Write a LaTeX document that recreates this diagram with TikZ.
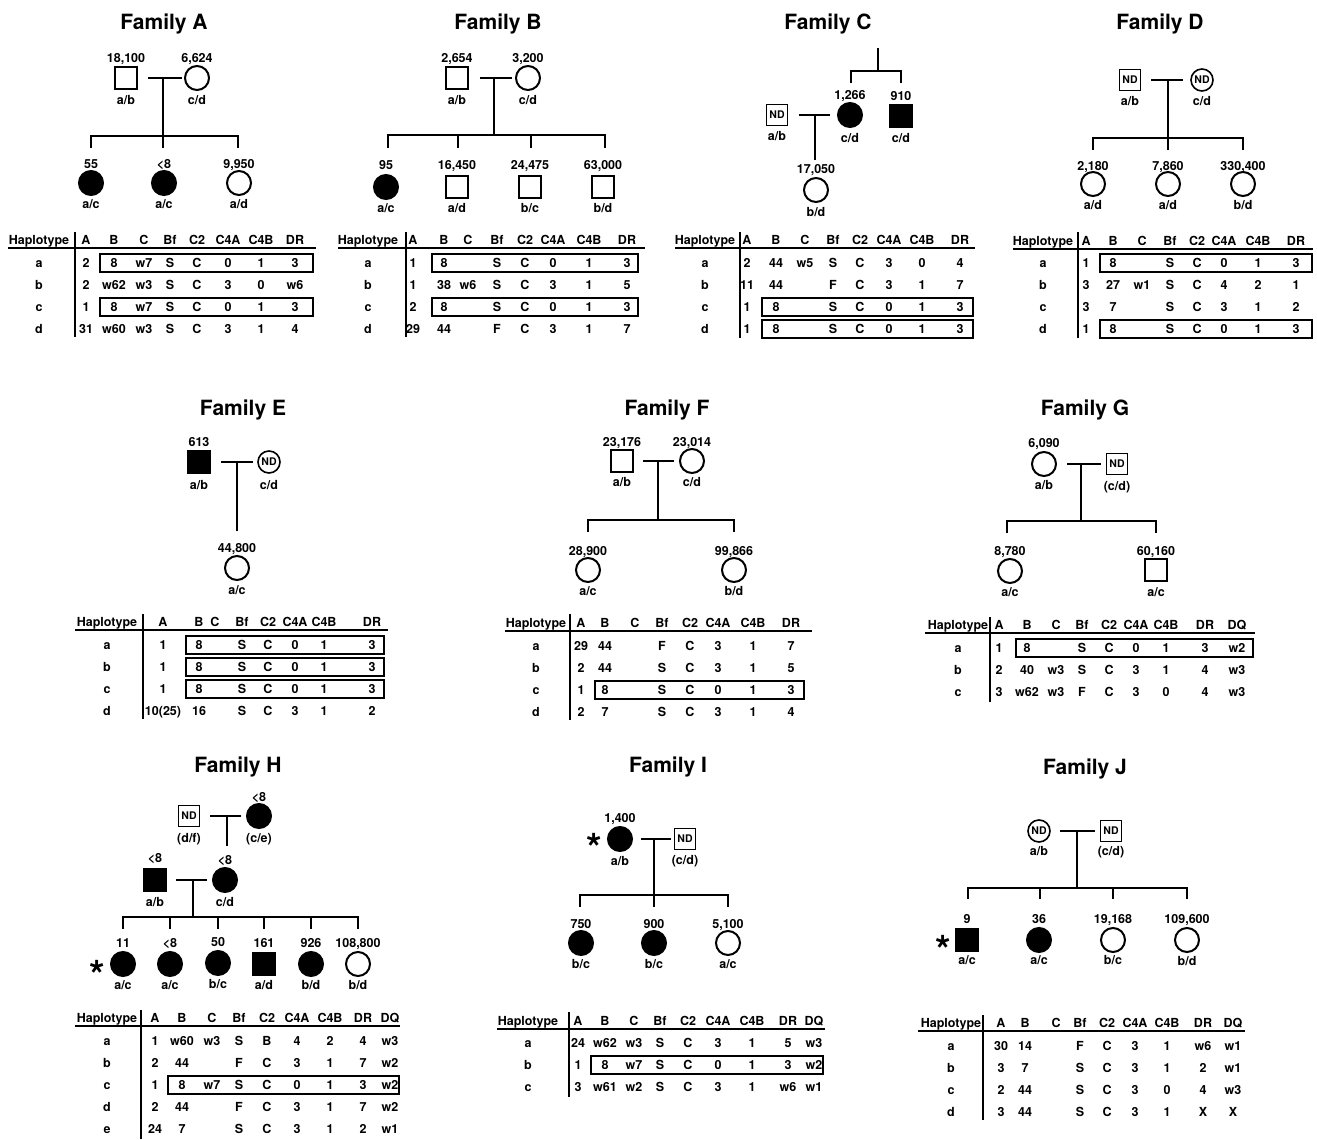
\documentclass[tikz,border=0pt]{standalone}
\usepackage{fontspec}
\setmainfont{TeX Gyre Heros}
\newcommand\ttlfont{\fontsize{21}{24}\selectfont\bfseries}
\newcommand\labfont{\fontsize{12.5}{14}\selectfont\bfseries}
\newcommand\cellfont{\fontsize{12.5}{14}\selectfont\bfseries}
\newcommand\ndfont{\fontsize{10.5}{12}\selectfont\bfseries}
\newcommand\starfont{\fontsize{40}{40}\selectfont\bfseries}
\newcommand\setcols[1]{\foreach \cv [count=\ci] in {#1} {\expandafter\xdef\csname tcol\ci\endcsname{\cv}}}
\newcommand\htrow[3]{\foreach \cv [count=\ci] in {#3} {\node[cell] (#1-\ci) at (\csname tcol\ci\endcsname,#2) {\cv};}}
\newcommand\pers[9]{\node[#2] (#1) at (#3,#4) {#5}; \node[lab] (#1t) at (#3,#7) {#6}; \node[lab] (#1b) at (#3,#9) {#8};}
\begin{document}
\begin{tikzpicture}[x=1pt,y=-1pt,
  sym/.style={draw, line width=2pt, inner sep=0pt},
  male/.style={sym, rectangle, minimum size=22.5pt},
  female/.style={sym, circle, minimum size=24pt},
  aff/.style={fill=black},
  ndm/.style={sym, rectangle, minimum size=21pt, line width=1.6pt, font=\ndfont},
  ndf/.style={sym, circle, minimum size=22pt, line width=1.6pt, font=\ndfont},
  lab/.style={font=\labfont, inner sep=0pt, text height=8.8pt, text depth=0pt},
  cell/.style={font=\cellfont, inner sep=0pt, text height=9pt, text depth=0pt},
  ttl/.style={font=\ttlfont, inner sep=0pt, text height=15pt, text depth=0pt},
  starn/.style={font=\starfont, inner sep=0pt, anchor=base},
  link/.style={line width=2pt},
  rule/.style={line width=2.2pt},
  hbox/.style={draw, line width=1.7pt}]
\fill[white] (0,0) rectangle (1317,1140);
\useasboundingbox (0,0) rectangle (1317,1140);

% ---------------- Family A
\node[ttl] (tA) at (164,22) {Family A};
\pers{A1}{male}{126}{78}{}{18,100}{58}{a/b}{100}
\pers{A2}{female}{197}{78}{}{6,624}{58}{c/d}{100}
\draw[link,shorten <=10pt,shorten >=2pt] (A1) -- (A2);
\coordinate (Am) at (163,78); \coordinate (Ad2) at (163,148);
\coordinate (Ad1) at (91,148); \coordinate (As3) at (238,136); \coordinate (Ad3) at (238,148);
\draw[link] (Am) -- (Ad2);
\draw[link] (Ad1) |- (As3) -- (Ad3);
\pers{A3}{female,aff}{91}{183}{}{55}{164}{a/c}{204}
\pers{A4}{female,aff}{164}{183}{}{<8}{164}{a/c}{204}
\pers{A5}{female}{239}{183}{}{9,950}{164}{a/d}{204}
\setcols{39,86,114,144,170,197,228,261,295}
\htrow{TA0}{240}{Haplotype,A,B,C,Bf,C2,C4A,C4B,DR}
\draw[rule] (8,248) -- (316,248);
\draw[rule] (75,232) -- (75,337);
\htrow{TAa}{263}{a,2,8,w7,S,C,0,1,3}
\htrow{TAb}{285}{b,2,w62,w3,S,C,3,0,w6}
\htrow{TAc}{307}{c,1,8,w7,S,C,0,1,3}
\htrow{TAd}{329}{d,31,w60,w3,S,C,3,1,4}
\draw[hbox] (100,254) rectangle (313,272);
\draw[hbox] (100,298) rectangle (313,316);

% ---------------- Family B
\node[ttl] (tB) at (498,22) {Family B};
\pers{B1}{male}{457}{78}{}{2,654}{58}{a/b}{100}
\pers{B2}{female}{528}{78}{}{3,200}{58}{c/d}{100}
\draw[link,shorten <=11pt,shorten >=3pt] (B1) -- (B2);
\coordinate (Bm) at (494,78); \coordinate (Bs) at (494,135);
\coordinate (Bd1) at (388,148); \coordinate (Bs4) at (605,135); \coordinate (Bd4) at (605,148);
\coordinate (Bs2) at (458,135); \coordinate (Bd2) at (458,148);
\coordinate (Bs3) at (531,135); \coordinate (Bd3) at (531,148);
\draw[link] (Bm) -- (Bs);
\draw[link] (Bd1) |- (Bs4) -- (Bd4);
\draw[link] (Bs2) -- (Bd2); \draw[link] (Bs3) -- (Bd3);
\pers{B3}{female,aff}{386}{187}{}{95}{165}{a/c}{208}
\pers{B4}{male}{457}{187}{}{16,450}{165}{a/d}{208}
\pers{B5}{male}{530}{187}{}{24,475}{165}{b/c}{208}
\pers{B6}{male}{603}{187}{}{63,000}{165}{b/d}{208}
\setcols{368,413,444,468,497,525,553,589,627}
\htrow{TB0}{240}{Haplotype,A,B,C,Bf,C2,C4A,C4B,DR}
\draw[rule] (338,248) -- (645,248);
\draw[rule] (406,232) -- (406,337);
\htrow{TBa}{263}{a,1,8,{},S,C,0,1,3}
\htrow{TBb}{285}{b,1,38,w6,S,C,3,1,5}
\htrow{TBc}{307}{c,2,8,{},S,C,0,1,3}
\htrow{TBd}{329}{d,29,44,{},F,C,3,1,7}
\draw[hbox] (432,254) rectangle (638,272);
\draw[hbox] (432,298) rectangle (638,316);

% ---------------- Family C
\node[ttl] (tC) at (828,22) {Family C};
\coordinate (Ct) at (878,48); \coordinate (Cs) at (878,71);
\coordinate (Cd1) at (851,83); \coordinate (Cs2) at (901,71); \coordinate (Cd2) at (901,83);
\draw[link] (Ct) -- (Cs);
\draw[link] (Cd1) |- (Cs2) -- (Cd2);
\pers{C1}{ndm}{777}{115}{ND}{}{95}{a/b}{136}
\pers{C2}{female,aff}{850}{115}{}{1,266}{95}{c/d}{138}
\pers{C3}{male,aff}{901}{116}{}{910}{96}{c/d}{138}
\draw[link,shorten <=11pt,shorten >=7pt] (C1) -- (C2);
\coordinate (Cm) at (815,115); \coordinate (Cd) at (815,160);
\draw[link] (Cm) -- (Cd);
\pers{C4}{female}{816}{190}{}{17,050}{169}{b/d}{212}
\setcols{705,747,776,805,833,860,889,922,960}
\htrow{TC0}{240}{Haplotype,A,B,C,Bf,C2,C4A,C4B,DR}
\draw[rule] (675,248) -- (975,248);
\draw[rule] (740,232) -- (740,338);
\htrow{TCa}{263}{a,2,44,w5,S,C,3,0,4}
\htrow{TCb}{285}{b,11,44,{},F,C,3,1,7}
\htrow{TCc}{307}{c,1,8,{},S,C,0,1,3}
\htrow{TCd}{329}{d,1,8,{},S,C,0,1,3}
\draw[hbox] (762,298) rectangle (973,316);
\draw[hbox] (762,320) rectangle (973,338);

% ---------------- Family D
\node[ttl] (tD) at (1160,22) {Family D};
\pers{D1}{ndm}{1130}{80}{ND}{}{60}{a/b}{101}
\pers{D2}{ndf}{1202}{80}{ND}{}{60}{c/d}{101}
\draw[link,shorten <=10pt,shorten >=7pt] (D1) -- (D2);
\coordinate (Dm) at (1168,80); \coordinate (Dd2) at (1168,150);
\coordinate (Dd1) at (1093,150); \coordinate (Ds3) at (1243,138); \coordinate (Dd3) at (1243,150);
\draw[link] (Dm) -- (Dd2);
\draw[link] (Dd1) |- (Ds3) -- (Dd3);
\pers{D3}{female}{1093}{184}{}{2,180}{166}{a/d}{205}
\pers{D4}{female}{1168}{184}{}{7,860}{166}{a/d}{205}
\pers{D5}{female}{1243}{184}{}{330,400}{166}{b/d}{205}
\setcols{1043,1086,1113,1142,1170,1197,1224,1258,1296}
\htrow{TD0}{241}{Haplotype,A,B,C,Bf,C2,C4A,C4B,DR}
\draw[rule] (1013,249) -- (1313,249);
\draw[rule] (1078,232) -- (1078,338);
\htrow{TDa}{263}{a,1,8,{},S,C,0,1,3}
\htrow{TDb}{285}{b,3,27,w1,S,C,4,2,1}
\htrow{TDc}{307}{c,3,7,{},S,C,3,1,2}
\htrow{TDd}{329}{d,1,8,{},S,C,0,1,3}
\draw[hbox] (1100,254) rectangle (1312,272);
\draw[hbox] (1100,320) rectangle (1312,338);

% ---------------- Family E
\node[ttl] (tE) at (243,408) {Family E};
\pers{E1}{male,aff}{199}{462}{}{613}{442}{a/b}{485}
\pers{E2}{ndf}{269}{462}{ND}{}{442}{c/d}{485}
\draw[link,shorten <=10pt,shorten >=4pt] (E1) -- (E2);
\coordinate (Em) at (237,462); \coordinate (Ed) at (237,531);
\draw[link] (Em) -- (Ed);
\pers{E3}{female}{237}{568}{}{44,800}{548}{a/c}{590}
\setcols{107,163,199,215,242,268,295,324,372}
\htrow{TE0}{622}{Haplotype,A,B,C,Bf,C2,C4A,C4B,DR}
\draw[rule] (75,630) -- (388,630);
\draw[rule] (143,614) -- (143,719);
\htrow{TEa}{645}{a,1,8,{},S,C,0,1,3}
\htrow{TEb}{667}{b,1,8,{},S,C,0,1,3}
\htrow{TEc}{689}{c,1,8,{},S,C,0,1,3}
\htrow{TEd}{711}{d,10(25),16,{},S,C,3,1,2}
\draw[hbox] (186,636) rectangle (384,654);
\draw[hbox] (186,658) rectangle (384,676);
\draw[hbox] (186,680) rectangle (384,698);

% ---------------- Family F
\node[ttl] (tF) at (667,408) {Family F};
\pers{F1}{male}{622}{461}{}{23,176}{442}{a/b}{482}
\pers{F2}{female}{692}{461}{}{23,014}{442}{c/d}{482}
\draw[link,shorten <=9pt,shorten >=5pt] (F1) -- (F2);
\coordinate (Fm) at (658,461); \coordinate (Fs) at (658,520);
\coordinate (Fd1) at (588,532); \coordinate (Fs2) at (734,520); \coordinate (Fd2) at (734,532);
\draw[link] (Fm) -- (Fs);
\draw[link] (Fd1) |- (Fs2) -- (Fd2);
\pers{F3}{female}{588}{570}{}{28,900}{551}{a/c}{591}
\pers{F4}{female}{734}{570}{}{99,866}{551}{b/d}{591}
\setcols{536,581,605,635,662,690,718,753,791}
\htrow{TF0}{623}{Haplotype,A,B,C,Bf,C2,C4A,C4B,DR}
\draw[rule] (505,631) -- (812,631);
\draw[rule] (570,614) -- (570,720);
\htrow{TFa}{646}{a,29,44,{},F,C,3,1,7}
\htrow{TFb}{668}{b,2,44,{},S,C,3,1,5}
\htrow{TFc}{690}{c,1,8,{},S,C,0,1,3}
\htrow{TFd}{712}{d,2,7,{},S,C,3,1,4}
\draw[hbox] (595,681) rectangle (804,699);

% ---------------- Family G
\node[ttl] (tG) at (1085,408) {Family G};
\pers{G1}{female}{1044}{464}{}{6,090}{443}{a/b}{485}
\pers{G2}{ndm}{1117}{464}{ND}{}{443}{(c/d)}{486}
\draw[link,shorten <=10pt,shorten >=5pt] (G1) -- (G2);
\coordinate (Gm) at (1081,464); \coordinate (Gs) at (1081,521);
\coordinate (Gd1) at (1007,533); \coordinate (Gs2) at (1156,521); \coordinate (Gd2) at (1156,533);
\draw[link] (Gm) -- (Gs);
\draw[link] (Gd1) |- (Gs2) -- (Gd2);
\pers{G3}{female}{1010}{571}{}{8,780}{551}{a/c}{592}
\pers{G4}{male}{1156}{570}{}{60,160}{551}{a/c}{592}
\setcols{958,999,1027,1056,1082,1109,1136,1166,1205,1237}
\htrow{TG0}{625}{Haplotype,A,B,C,Bf,C2,C4A,C4B,DR,DQ}
\draw[rule] (925,633) -- (1255,633);
\draw[rule] (990,617) -- (990,702);
\htrow{TGa}{648}{a,1,8,{},S,C,0,1,3,w2}
\htrow{TGb}{670}{b,2,40,w3,S,C,3,1,4,w3}
\htrow{TGc}{692}{c,3,w62,w3,F,C,3,0,4,w3}
\draw[hbox] (1016,639) rectangle (1253,657);

% ---------------- Family H
\node[ttl] (tH) at (238,765) {Family H};
\pers{H1}{ndm}{189}{816}{ND}{}{796}{(d/f)}{838}
\pers{H2}{female,aff}{259}{816}{}{<8}{797}{(c/e)}{838}
\draw[link,shorten <=10pt,shorten >=5pt] (H1) -- (H2);
\coordinate (Hm1) at (227,816); \coordinate (Hd0) at (227,846);
\draw[link] (Hm1) -- (Hd0);
\pers{H3}{male,aff}{155}{880}{}{<8}{858}{a/b}{902}
\pers{H4}{female,aff}{225}{880}{}{<8}{860}{c/d}{902}
\draw[link,shorten <=9pt,shorten >=5pt] (H3) -- (H4);
\coordinate (Hm2) at (193,880); \coordinate (Hs) at (193,917);
\draw[link] (Hm2) -- (Hs);
\coordinate (Hd1) at (123,929); \coordinate (Hs6) at (358,917); \coordinate (Hd6) at (358,929);
\draw[link] (Hd1) |- (Hs6) -- (Hd6);
\foreach \hx [count=\hi from 2] in {170,218,264,311} {
  \coordinate (Hs\hi) at (\hx,917); \coordinate (Hd\hi) at (\hx,929);
  \draw[link] (Hs\hi) -- (Hd\hi);}
\pers{H5}{female,aff}{123}{964}{}{11}{943}{a/c}{985}
\pers{H6}{female,aff}{170}{964}{}{<8}{943}{a/c}{985}
\pers{H7}{female,aff}{218}{963}{}{50}{942}{b/c}{984}
\pers{H8}{male,aff}{264}{964}{}{161}{943}{a/d}{985}
\pers{H9}{female,aff}{311}{964}{}{926}{943}{b/d}{985}
\pers{H10}{female}{358}{964}{}{108,800}{943}{b/d}{985}
\node[starn] (Hstar) at (97,989) {*};
\setcols{107,155,182,212,239,267,297,330,363,390}
\htrow{TH0}{1018}{Haplotype,A,B,C,Bf,C2,C4A,C4B,DR,DQ}
\draw[rule] (75,1026) -- (400,1026);
\draw[rule] (141,1010) -- (141,1139);
\htrow{THa}{1041}{a,1,w60,w3,S,B,4,2,4,w3}
\htrow{THb}{1063}{b,2,44,{},F,C,3,1,7,w2}
\htrow{THc}{1085}{c,1,8,w7,S,C,0,1,3,w2}
\htrow{THd}{1107}{d,2,44,{},F,C,3,1,7,w2}
\htrow{THe}{1129}{e,24,7,{},S,C,3,1,2,w1}
\draw[hbox] (168,1076) rectangle (399,1094);

% ---------------- Family I
\node[ttl] (tI) at (668,765) {Family I};
\pers{I1}{female,aff}{620}{839}{}{1,400}{818}{a/b}{861}
\pers{I2}{ndm}{685}{839}{ND}{}{818}{(c/d)}{860}
\draw[link,shorten <=8pt,shorten >=3pt] (I1) -- (I2);
\coordinate (Im) at (654,839); \coordinate (Id2) at (654,907);
\coordinate (Id1) at (580,907); \coordinate (Is3) at (728,895); \coordinate (Id3) at (728,907);
\draw[link] (Im) -- (Id2);
\draw[link] (Id1) |- (Is3) -- (Id3);
\pers{I3}{female,aff}{581}{943}{}{750}{924}{b/c}{964}
\pers{I4}{female,aff}{654}{943}{}{900}{924}{b/c}{964}
\pers{I5}{female}{728}{943}{}{5,100}{924}{a/c}{964}
\node[starn] (Istar) at (594,862) {*};
\setcols{528,578,605,634,660,688,718,752,788,814}
\htrow{TI0}{1021}{Haplotype,A,B,C,Bf,C2,C4A,C4B,DR,DQ}
\draw[rule] (497,1029) -- (825,1029);
\draw[rule] (569,1012) -- (569,1097);
\htrow{TIa}{1043}{a,24,w62,w3,S,C,3,1,5,w3}
\htrow{TIb}{1065}{b,1,8,w7,S,C,0,1,3,w2}
\htrow{TIc}{1087}{c,3,w61,w2,S,C,3,1,w6,w1}
\draw[hbox] (591,1056) rectangle (823,1074);

% ---------------- Family J
\node[ttl] (tJ) at (1085,767) {Family J};
\pers{J1}{ndf}{1039}{831}{ND}{}{811}{a/b}{851}
\pers{J2}{ndm}{1111}{831}{ND}{}{811}{(c/d)}{851}
\draw[link,shorten <=9pt,shorten >=5pt] (J1) -- (J2);
\coordinate (Jm) at (1077,831); \coordinate (Js) at (1077,888);
\coordinate (Jd1) at (968,899); \coordinate (Js4) at (1187,888); \coordinate (Jd4) at (1187,899);
\coordinate (Js2) at (1040,888); \coordinate (Jd2) at (1040,899);
\coordinate (Js3) at (1113,888); \coordinate (Jd3) at (1113,899);
\draw[link] (Jm) -- (Js);
\draw[link] (Jd1) |- (Js4) -- (Jd4);
\draw[link] (Js2) -- (Jd2); \draw[link] (Js3) -- (Jd3);
\pers{J3}{male,aff}{967}{940}{}{9}{919}{a/c}{960}
\pers{J4}{female,aff}{1039}{940}{}{36}{919}{a/c}{960}
\pers{J5}{female}{1113}{940}{}{19,168}{919}{b/c}{960}
\pers{J6}{female}{1187}{940}{}{109,600}{919}{b/d}{961}
\node[starn] (Jstar) at (943,964) {*};
\setcols{951,1001,1025,1056,1080,1107,1135,1167,1203,1233}
\htrow{TJ0}{1023}{Haplotype,A,B,C,Bf,C2,C4A,C4B,DR,DQ}
\draw[rule] (918,1031) -- (1245,1031);
\draw[rule] (983,1015) -- (983,1120);
\htrow{TJa}{1046}{a,30,14,{},F,C,3,1,w6,w1}
\htrow{TJb}{1068}{b,3,7,{},S,C,3,1,2,w1}
\htrow{TJc}{1090}{c,2,44,{},S,C,3,0,4,w3}
\htrow{TJd}{1112}{d,3,44,{},S,C,3,1,X,X}
\end{tikzpicture}
\end{document}
